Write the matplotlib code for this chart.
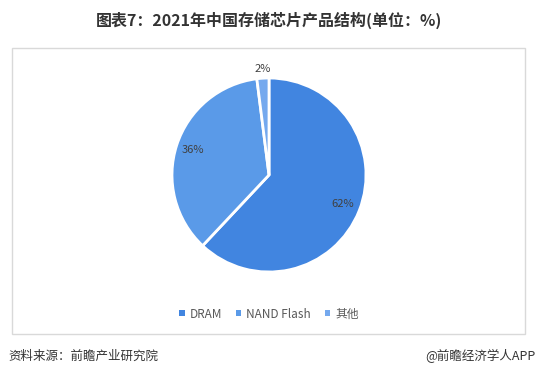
import matplotlib.pyplot as plt
from matplotlib.patches import Rectangle

plt.rcParams['font.family'] = ['Noto Sans CJK SC', 'DejaVu Sans']

labels = ['DRAM', 'NAND Flash', '其他']
shares = [62, 36, 2]
colors = ['#4185e0', '#5a9ae8', '#75a9ee']

W, H = 538, 380
fig = plt.figure(figsize=(W / 100, H / 100), dpi=100)

# light frame around the chart area
fig.patches.append(Rectangle((12 / W, 1 - 334 / H), 513 / W, 286 / H,
                             transform=fig.transFigure, fill=False,
                             edgecolor='#d9d9d9', linewidth=1))

# pie: centre (269,175) px, radius ~97 px
r = 97
side = 2.4 * r
ax = fig.add_axes([(269 - side / 2) / W, 1 - (175 + side / 2) / H, side / W, side / H])
wedges, texts, autotexts = ax.pie(shares, colors=colors, startangle=90, counterclock=False,
                                  autopct='%d%%', pctdistance=0.82,
                                  wedgeprops=dict(edgecolor='white', linewidth=2),
                                  textprops=dict(fontsize=8, color='#404040'))
ax.set_xlim(-1.2, 1.2)
ax.set_ylim(-1.2, 1.2)
ax.set_aspect('equal')
x, y = autotexts[2].get_position()
autotexts[2].set_position((x / 0.82 * 1.1, y / 0.82 * 1.1))

handles = [Rectangle((0, 0), 1, 1, facecolor=c, edgecolor='none') for c in colors]
fig.legend(handles, labels, loc='center', bbox_to_anchor=(269 / W, 1 - 314 / H), ncol=3,
           frameon=False, fontsize=8.5, handlelength=0.45, handleheight=0.45,
           handletextpad=0.4, columnspacing=1.2, labelcolor='#595959')

fig.text(269 / W, 1 - 20 / H, '图表7：2021年中国存储芯片产品结构(单位：%)',
         ha='center', va='center', fontsize=11.5, fontweight='bold', color='#333333')
fig.text(8 / W, 1 - 356 / H, '资料来源：前瞻产业研究院', ha='left', va='center',
         fontsize=9, color='#333333')
fig.text(535 / W, 1 - 356 / H, '@前瞻经济学人APP', ha='right', va='center',
         fontsize=9, color='#333333')

fig.savefig('out.png', dpi=100)
